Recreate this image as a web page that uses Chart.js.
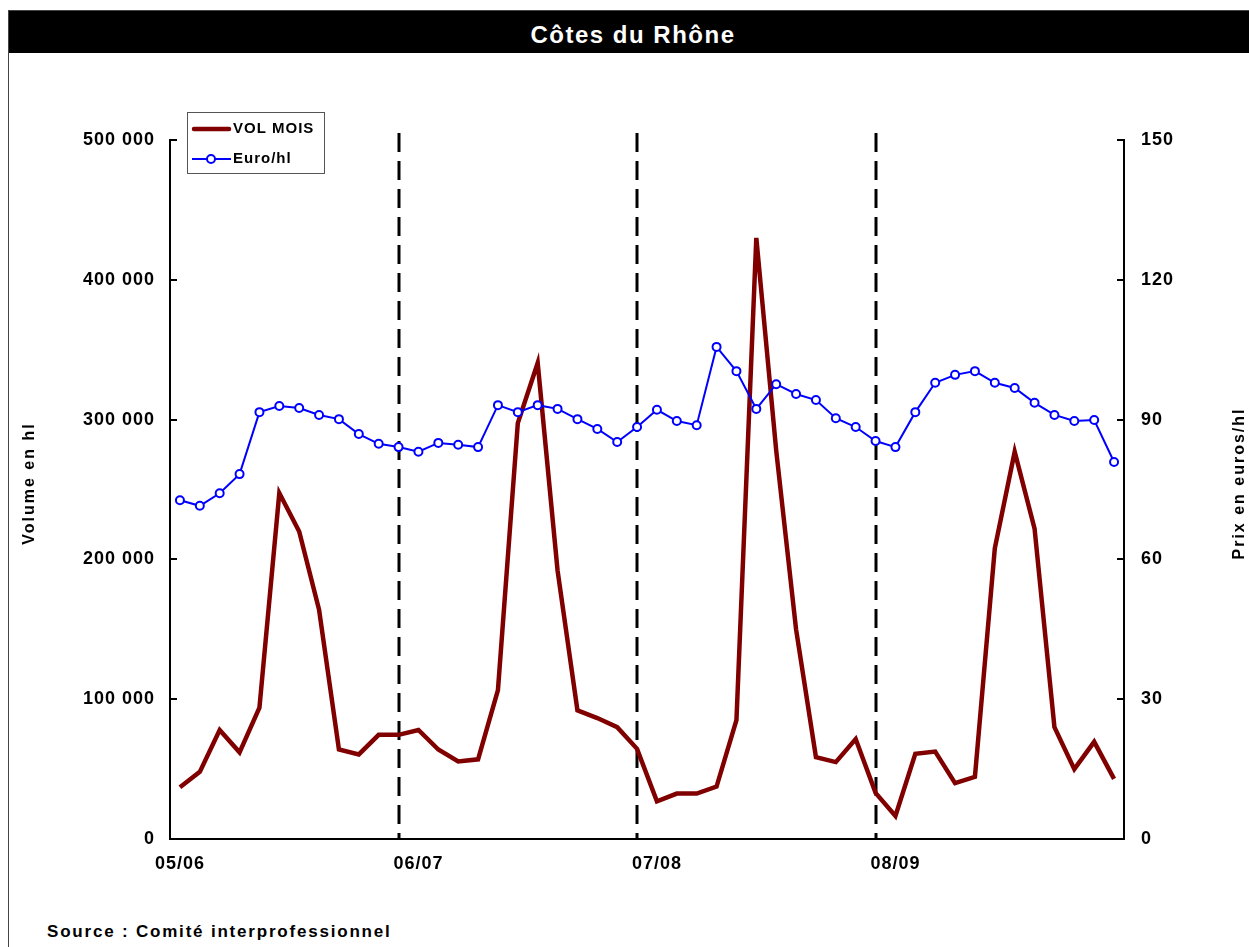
<!DOCTYPE html>
<html lang="fr">
<head>
  <meta charset="UTF-8">
  <title>Côtes du Rhône</title>
  <style>
    html, body { margin: 0; padding: 0; background: #fff; }
    body { width: 1249px; height: 947px; position: relative; overflow: hidden; font-family: "Liberation Sans", Arial, sans-serif; }
    .frame { position: absolute; left: 8px; top: 10px; width: 1248px; height: 980px; border: 1px solid #444; }
    .bar { height: 42px; overflow: hidden; background: #000; color: #fff; font-weight: bold; font-size: 24px; letter-spacing: 1.5px; line-height: 48px; text-align: center; }
    .source { position: absolute; left: 47px; top: 922px; font-weight: bold; font-size: 17px; letter-spacing: 1.8px; }
    #chart { position: absolute; left: 0; top: 0; }
  </style>
</head>
<body>
  <div class="frame"><div class="bar">Côtes du Rhône</div></div>
  <div class="source">Source : Comité interprofessionnel</div>
  <canvas id="chart" width="1249" height="947"></canvas>

  <script src="https://cdn.jsdelivr.net/npm/chart.js"></script>
  <script>
    // months Aug 2005 .. Jul 2009
    const months = [
      '08/05','09/05','10/05','11/05','12/05','01/06','02/06','03/06','04/06','05/06','06/06','07/06',
      '08/06','09/06','10/06','11/06','12/06','01/07','02/07','03/07','04/07','05/07','06/07','07/07',
      '08/07','09/07','10/07','11/07','12/07','01/08','02/08','03/08','04/08','05/08','06/08','07/08',
      '08/08','09/08','10/08','11/08','12/08','01/09','02/09','03/09','04/09','05/09','06/09','07/09'
    ];
    const seasons = ['05/06', '06/07', '07/08', '08/09'];
    const seasonStarts = [0, 12, 24, 36];
    const seasonBreaks = [11, 23, 35];

    const volume = [
      37000, 48000, 78000, 62000, 94000, 247500, 220000, 164000, 64000, 60500, 74500, 74500,
      78000, 64000, 55500, 57000, 106500, 297500, 340500, 192000, 92000, 86500, 80000, 64500,
      27000, 32500, 32500, 37500, 85000, 430000, 278000, 150000, 58500, 55000, 71500, 33000,
      16500, 61000, 62500, 40000, 44500, 208000, 277000, 222000, 80000, 50000, 69500, 43000
    ];
    const price = [
      72.7, 71.5, 74.2, 78.3, 91.6, 92.9, 92.5, 91.0, 90.1, 86.9, 84.8, 84.1,
      83.1, 85.0, 84.6, 84.1, 93.1, 91.6, 93.1, 92.3, 90.1, 88.0, 85.2, 88.4,
      92.1, 89.7, 88.8, 105.6, 100.4, 92.3, 97.6, 95.5, 94.2, 90.3, 88.4, 85.4,
      84.1, 91.6, 97.9, 99.6, 100.4, 97.9, 96.8, 93.6, 91.0, 89.7, 89.9, 80.9
    ];

    const FAMILY = '"Liberation Sans", Arial, sans-serif';
    const tickFont = { family: FAMILY, weight: 'bold', size: 18 };

    function spaced(v) {
      return String(v).replace(/\B(?=(\d{3})+(?!\d))/g, ' ');
    }

    const spacing = {
      id: 'spacing',
      beforeDraw(chart) { chart.ctx.letterSpacing = '1px'; }
    };

    // dashed lines at the end of each campaign
    const breaks = {
      id: 'breaks',
      beforeDatasetsDraw(chart) {
        const { ctx, chartArea, scales } = chart;
        ctx.save();
        ctx.strokeStyle = '#000';
        ctx.lineWidth = 3;
        ctx.setLineDash([19, 9]);
        seasonBreaks.forEach(i => {
          const x = Math.round(scales.x.getPixelForValue(i));
          ctx.beginPath();
          ctx.moveTo(x, chartArea.top - 7);
          ctx.lineTo(x, chartArea.bottom);
          ctx.stroke();
        });
        ctx.restore();
      }
    };

    const decor = {
      id: 'decor',
      afterDraw(chart) {
        const { ctx, chartArea } = chart;
        const ds = chart.data.datasets;
        ctx.save();
        ctx.letterSpacing = '1px';
        ctx.font = 'bold 15px ' + FAMILY;
        ctx.fillStyle = '#000';
        ctx.textBaseline = 'middle';

        // legend box
        const bx = chartArea.left + 17, by = chartArea.top - 28;
        ctx.fillStyle = '#fff';
        ctx.fillRect(bx, by, 137, 61);
        ctx.strokeStyle = '#555';
        ctx.lineWidth = 1;
        ctx.strokeRect(bx + 0.5, by + 0.5, 137, 61);

        ctx.lineCap = 'round';
        ctx.strokeStyle = ds[0].borderColor;
        ctx.lineWidth = ds[0].borderWidth;
        ctx.beginPath();
        ctx.moveTo(bx + 7, by + 17);
        ctx.lineTo(bx + 42, by + 17);
        ctx.stroke();

        ctx.lineCap = 'butt';
        ctx.strokeStyle = ds[1].borderColor;
        ctx.lineWidth = ds[1].borderWidth;
        ctx.beginPath();
        ctx.moveTo(bx + 5, by + 47);
        ctx.lineTo(bx + 44, by + 47);
        ctx.stroke();
        ctx.beginPath();
        ctx.arc(bx + 24, by + 47, 4, 0, Math.PI * 2);
        ctx.fillStyle = '#fff';
        ctx.fill();
        ctx.stroke();

        ctx.fillStyle = '#000';
        ctx.textAlign = 'left';
        ctx.fillText(ds[0].label, bx + 46, by + 17);
        ctx.fillText(ds[1].label, bx + 46, by + 47);

        // axis titles
        const mid = (chartArea.top + chartArea.bottom) / 2 - 6;
        ctx.font = 'bold 16px ' + FAMILY;
        ctx.letterSpacing = '2px';
        ctx.textAlign = 'center';
        ctx.save();
        ctx.translate(30, mid);
        ctx.rotate(-Math.PI / 2);
        ctx.fillText('Volume en hl', 0, 0);
        ctx.restore();
        ctx.save();
        ctx.translate(1240, mid);
        ctx.rotate(-Math.PI / 2);
        ctx.fillText('Prix en euros/hl', 0, 0);
        ctx.restore();
        ctx.restore();
      }
    };

    const config = {
      type: 'line',
      data: {
        labels: months,
        datasets: [
          {
            label: 'VOL MOIS',
            data: volume,
            yAxisID: 'y',
            borderColor: '#800000',
            borderWidth: 4.5,
            pointRadius: 0,
            tension: 0,
            order: 1
          },
          {
            label: 'Euro/hl',
            data: price,
            yAxisID: 'y1',
            borderColor: '#0000ff',
            borderWidth: 2,
            pointRadius: 4,
            pointBorderWidth: 2,
            pointBorderColor: '#0000ff',
            pointBackgroundColor: '#fff',
            tension: 0,
            order: 0
          }
        ]
      },
      options: {
        responsive: false,
        devicePixelRatio: 1,
        animation: false,
        layout: { padding: { top: 140, bottom: 48, left: 0, right: 0 } },
        plugins: { legend: { display: false }, tooltip: { enabled: false } },
        scales: {
          x: {
            type: 'category',
            offset: true,
            grid: { display: true, drawOnChartArea: false, drawTicks: false },
            border: { display: true, color: '#000', width: 2 },
            ticks: {
              autoSkip: false,
              maxRotation: 0,
              color: '#000',
              font: tickFont,
              padding: 14,
              callback: (v, i) => {
                const k = seasonStarts.indexOf(i);
                return k >= 0 ? seasons[k] : '';
              }
            },
            afterFit: s => { s.height = 60; }
          },
          y: {
            position: 'left',
            min: 0,
            max: 500000,
            grid: { drawOnChartArea: false, color: '#000', lineWidth: 2, tickLength: -7 },
            border: { display: true, color: '#000', width: 2 },
            ticks: { stepSize: 100000, color: '#000', font: tickFont, padding: 22, callback: v => spaced(v) },
            afterFit: s => { s.width = 170; }
          },
          y1: {
            position: 'right',
            min: 0,
            max: 150,
            grid: { drawOnChartArea: false, color: '#000', lineWidth: 2, tickLength: -7 },
            border: { display: true, color: '#000', width: 2 },
            ticks: { stepSize: 30, color: '#000', font: tickFont, padding: 24 },
            afterFit: s => { s.width = 125; }
          }
        }
      },
      plugins: [spacing, breaks, decor]
    };

    new Chart(document.getElementById('chart'), config);
  </script>
</body>
</html>
